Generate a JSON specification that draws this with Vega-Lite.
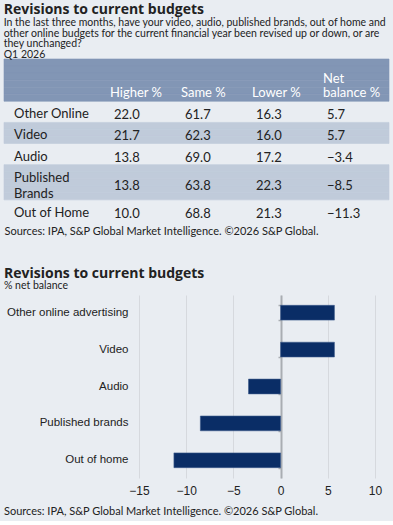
{
  "$schema": "https://vega.github.io/schema/vega-lite/v6.json",
  "background": "#e9edf2",
  "padding": {"left": 3, "right": 5, "top": 3, "bottom": 4},
  "config": {"view": {"stroke": null}, "font": "Lato"},
  "title": {"text": "Sources: IPA, S&P Global Market Intelligence. ©2026 S&P Global.", "orient": "bottom", "anchor": "start", "frame": "group", "fontSize": 11, "fontWeight": "normal", "color": "#222222", "offset": 10, "font": "Lato"},
  "spacing": 30,
  "datasets": {
    "budgets": [
      {"item": "Other Online", "higher": 22.0, "same": 61.7, "lower": 16.3, "net": 5.7, "line": "a2", "labelLine": "a2"},
      {"item": "Video", "higher": 21.7, "same": 62.3, "lower": 16.0, "net": 5.7, "line": "b2", "labelLine": "b2"},
      {"item": "Audio", "higher": 13.8, "same": 69.0, "lower": 17.2, "net": -3.4, "line": "c2", "labelLine": "c2"},
      {"item": "Published Brands", "higher": 13.8, "same": 63.8, "lower": 22.3, "net": -8.5, "line": "d3", "labelLine": "d2"},
      {"item": "Out of Home", "higher": 10.0, "same": 68.8, "lower": 21.3, "net": -11.3, "line": "e2", "labelLine": "e2"}
    ],
    "shading": [
      {"line": "h1", "kind": "header"}, {"line": "h2", "kind": "header"}, {"line": "h3", "kind": "header"},
      {"line": "h4", "kind": "header"}, {"line": "h5", "kind": "header"}, {"line": "h6", "kind": "header"},
      {"line": "b1", "kind": "band"}, {"line": "b2", "kind": "band"}, {"line": "b3", "kind": "band"},
      {"line": "d1", "kind": "band"}, {"line": "d2", "kind": "band"}, {"line": "d3", "kind": "band"},
      {"line": "d4", "kind": "band"}, {"line": "d5", "kind": "band"}
    ],
    "headers": [
      {"col": "higher", "line": "h5", "text": "Higher %"},
      {"col": "same", "line": "h5", "text": "Same %"},
      {"col": "lower", "line": "h5", "text": "Lower %"},
      {"col": "net", "line": "h3", "text": "Net"},
      {"col": "net", "line": "h5", "text": "balance %"}
    ],
    "netbalance": [
      {"category": "Other online advertising", "net": 5.7},
      {"category": "Video", "net": 5.7},
      {"category": "Audio", "net": -3.4},
      {"category": "Published brands", "net": -8.5},
      {"category": "Out of home", "net": -11.3}
    ]
  },
  "vconcat": [
    {
      "width": 385,
      "height": 162,
      "title": {
        "text": "Revisions to current budgets",
        "subtitle": ["In the last three months, have your video, audio, published brands, out of home and", "other online budgets for the current financial year been revised up or down, or are", "they unchanged?", "Q1 2026"],
        "anchor": "start", "frame": "bounds", "font": "Open Sans", "fontSize": 14, "fontWeight": "bold", "color": "#222222",
        "subtitleFont": "Lato", "subtitleFontSize": 10.5, "subtitleColor": "#222222", "subtitleLineHeight": 10.7, "subtitlePadding": 1, "offset": -2
      },
      "layer": [
        {
          "data": {"name": "shading"},
          "mark": {"type": "rect", "strokeWidth": 0.6},
          "encoding": {
            "y": {"field": "line", "type": "nominal", "scale": {"domain": ["h1", "h2", "h3", "h4", "h5", "h6", "a1", "a2", "a3", "b1", "b2", "b3", "c1", "c2", "c3", "d1", "d2", "d3", "d4", "d5", "e1", "e2", "e3"], "paddingInner": 0, "paddingOuter": 0}, "axis": null},
            "color": {"field": "kind", "type": "nominal", "scale": {"domain": ["header", "band"], "range": ["#8296b5", "#c0cbda"]}, "legend": null},
            "stroke": {"field": "kind", "type": "nominal", "scale": {"domain": ["header", "band"], "range": ["#8296b5", "#c0cbda"]}, "legend": null}
          }
        },
        {
          "data": {"name": "headers"},
          "mark": {"type": "text", "align": "left", "baseline": "middle", "color": "#ffffff", "fontSize": 13, "dy": 2, "dx": -4},
          "encoding": {
            "y": {"field": "line", "type": "nominal"},
            "x": {"field": "col", "type": "nominal", "scale": {"type": "point", "domain": ["higher", "same", "lower", "net"], "padding": 0, "range": [110, 323]}, "axis": {"labels": false, "ticks": false, "domain": false, "title": "Sources: IPA, S&P Global Market Intelligence. ©2026 S&P Global.", "titleAnchor": "start", "titleX": 0, "titleAlign": "left", "titleFontWeight": "normal", "titleFontSize": 11, "titleColor": "#222222", "titleFont": "Lato", "titlePadding": 4}},
            "text": {"field": "text"}
          }
        },
        {
          "data": {"name": "budgets"},
          "transform": [
            {"fold": ["higher", "same", "lower", "net"], "as": ["col", "value"]}
          ],
          "mark": {"type": "text", "align": "left", "baseline": "middle", "color": "#222222", "fontSize": 13, "dy": 3.5},
          "encoding": {
            "y": {"field": "line", "type": "nominal"},
            "x": {"field": "col", "type": "nominal"},
            "text": {"field": "value", "type": "quantitative", "format": ".1f"}
          }
        },
        {
          "data": {"name": "budgets"},
          "mark": {"type": "text", "align": "left", "baseline": "middle", "color": "#222222", "fontSize": 13, "dx": 10, "dy": 2.5, "lineBreak": "|", "lineHeight": 16},
          "encoding": {
            "y": {"field": "labelLine", "type": "nominal"},
            "x": {"value": 0},
            "text": {"condition": {"test": "datum.item === 'Published Brands'", "value": ["Published", "Brands"]}, "field": "item"}
          }
        }
      ]
    },
    {
      "width": 371,
      "height": 183,
      "title": {
        "text": "Revisions to current budgets", "subtitle": "% net balance",
        "anchor": "start", "frame": "bounds", "font": "Open Sans", "fontSize": 14, "fontWeight": "bold", "color": "#222222",
        "subtitleFont": "Lato", "subtitleFontSize": 10.5, "subtitleColor": "#222222", "subtitlePadding": 0, "offset": 4
      },
      "data": {"name": "netbalance"},
      "layer": [
        {
          "mark": {"type": "bar", "color": "#0a2d66", "stroke": "#3d5b8c", "strokeWidth": 0.6},
          "encoding": {
            "y": {"field": "category", "type": "nominal", "sort": null, "scale": {"paddingInner": 0.6, "paddingOuter": 0.28},
              "axis": {"orient": "left", "offset": -135, "title": null, "domain": false, "ticks": false, "labelFont": "Liberation Sans", "labelFontSize": 11.5, "labelColor": "#222222", "labelPadding": 11, "minExtent": 0, "maxExtent": 0}},
            "x": {"field": "net", "type": "quantitative", "scale": {"domain": [-15, 10], "nice": false, "range": [135, 371]},
              "axis": {"title": null, "values": [-15, -10, -5, 0, 5, 10], "grid": true, "gridColor": "#d6d9de", "gridWidth": 1, "domain": false, "ticks": false, "labelFlush": false, "labelOverlap": false, "labelBound": false, "labelPadding": 7, "labelFont": "Liberation Sans", "labelFontSize": 12, "labelColor": "#222222"}}
          }
        },
        {
          "mark": {"type": "tick", "opacity": 0},
          "encoding": {
            "y": {"field": "category", "type": "nominal", "sort": null,
              "axis": {"orient": "left", "offset": -277, "title": null, "labels": false, "domain": true, "domainColor": "#a9adb2", "domainWidth": 2, "ticks": true, "tickBand": "extent", "tickSize": 3, "tickColor": "#a9adb2", "tickWidth": 1.5, "grid": false, "minExtent": 0, "maxExtent": 0}},
            "x": {"field": "net", "type": "quantitative"}
          }
        }
      ],
      "resolve": {"axis": {"y": "independent"}}
    }
  ]
}
